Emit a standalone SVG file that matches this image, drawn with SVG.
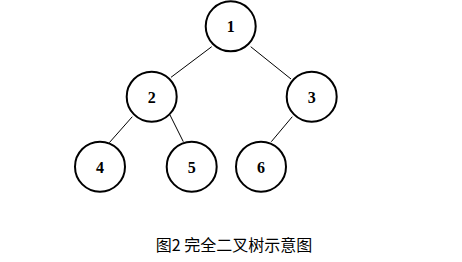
<svg xmlns="http://www.w3.org/2000/svg" width="462" height="262" viewBox="0 0 462 262">
<style>
.node circle{fill:#fff;stroke:#000;stroke-width:2}
.node text{font-family:"Liberation Serif","Times New Roman",serif;font-weight:bold;font-size:16px;text-anchor:middle;fill:#000}
#edges line{stroke:#000;stroke-width:1}
.cap{font-family:"Noto Sans CJK SC","Noto Sans",sans-serif;font-size:16px;fill:#000;text-anchor:middle}
</style>
<rect width="462" height="262" fill="#fff"/>
<g id="edges">
<line x1="211.7" y1="46.7" x2="171" y2="77.3"/>
<line x1="250.7" y1="46.7" x2="291" y2="79"/>
<line x1="132.3" y1="116.7" x2="109.3" y2="142.7"/>
<line x1="170" y1="115" x2="183.3" y2="141.7"/>
<line x1="292.3" y1="116.7" x2="271.3" y2="141.7"/>
</g>
<g id="n1" class="node"><circle cx="230.7" cy="26.3" r="25"/><text x="230.7" y="32.2">1</text></g>
<g id="n2" class="node"><circle cx="151.7" cy="96.7" r="25"/><text x="151.7" y="102.6">2</text></g>
<g id="n3" class="node"><circle cx="311.7" cy="96.7" r="25"/><text x="311.7" y="102.6">3</text></g>
<g id="n4" class="node"><circle cx="100" cy="166.7" r="25"/><text x="100" y="172.6">4</text></g>
<g id="n5" class="node"><circle cx="191.7" cy="166.7" r="25"/><text x="191.7" y="172.6">5</text></g>
<g id="n6" class="node"><circle cx="261" cy="166.7" r="25"/><text x="261" y="172.6">6</text></g>
<text class="cap" x="234" y="251">图2 完全二叉树示意图</text>
</svg>
